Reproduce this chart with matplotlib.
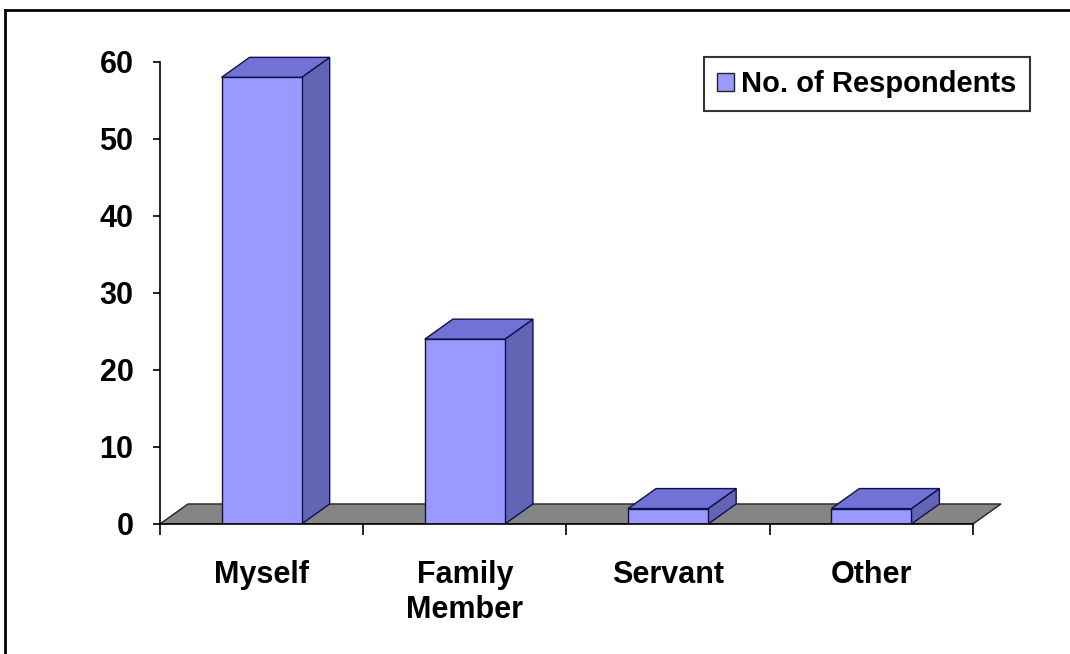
import matplotlib
matplotlib.use('Agg')
import matplotlib.pyplot as plt
from matplotlib.patches import Polygon, Patch
from matplotlib.lines import Line2D

categories = ['Myself', 'Family\nMember', 'Servant', 'Other']
respondents = [58, 24, 2, 2]
y_ticks = [0, 10, 20, 30, 40, 50, 60]
legend_label = 'No. of Respondents'

front_col = '#9999FF'
top_col = '#7272D6'
side_col = '#6464B4'
edge_col = '#10104A'
floor_col = '#858585'

bar_w = 0.394
ddx = 0.138   # depth offset along x (category units)
ddy = 2.6     # depth offset along y (value units)

plt.rcParams['font.family'] = ['Liberation Sans', 'DejaVu Sans']
plt.rcParams['font.weight'] = 'bold'

fig = plt.figure(figsize=(10.7, 6.54), dpi=100)
ax = fig.add_axes([0.1495, 0.1988, 0.7883, 0.730])
ax.set_xlim(-0.5, 3.65)
ax.set_ylim(0, 62)

# floor
n = len(categories)
floor = Polygon([(-0.5, 0), (n - 0.5, 0), (n - 0.5 + ddx, ddy), (-0.5 + ddx, ddy)],
                closed=True, facecolor=floor_col, edgecolor='#222222', linewidth=1, zorder=1)
ax.add_patch(floor)

# 3d-looking bars
for i, v in enumerate(respondents):
    x0 = i - bar_w / 2
    x1 = i + bar_w / 2
    side = Polygon([(x1, 0), (x1 + ddx, ddy), (x1 + ddx, v + ddy), (x1, v)],
                   closed=True, facecolor=side_col, edgecolor=edge_col, linewidth=1, zorder=2)
    top = Polygon([(x0, v), (x1, v), (x1 + ddx, v + ddy), (x0 + ddx, v + ddy)],
                  closed=True, facecolor=top_col, edgecolor=edge_col, linewidth=1, zorder=2)
    front = Polygon([(x0, 0), (x1, 0), (x1, v), (x0, v)],
                    closed=True, facecolor=front_col, edgecolor=edge_col, linewidth=1, zorder=3)
    ax.add_patch(side)
    ax.add_patch(top)
    ax.add_patch(front)

# axes styling
for s in ['top', 'right']:
    ax.spines[s].set_visible(False)
ax.spines['left'].set_bounds(0, 60)
ax.spines['bottom'].set_bounds(-0.5, n - 0.5)
ax.spines['left'].set_linewidth(1.2)
ax.spines['bottom'].set_linewidth(1.2)
ax.spines['left'].set_zorder(5)
ax.spines['bottom'].set_zorder(5)

ax.set_yticks(y_ticks)
ax.set_yticklabels([str(t) for t in y_ticks], fontsize=22, fontweight='bold')
ax.tick_params(axis='y', length=5, width=1.2, pad=14)

ax.set_xticks(range(n))
ax.set_xticklabels(categories, fontsize=22, fontweight='bold', linespacing=1.2)
ax.set_xticks([i - 0.5 for i in range(n + 1)], minor=True)
ax.tick_params(axis='x', which='major', length=0, pad=26)
ax.tick_params(axis='x', which='minor', length=8, width=1.2)

leg = ax.legend(handles=[Patch(facecolor=front_col, edgecolor='#222222', label=legend_label)],
                loc='upper right', bbox_to_anchor=(1030 / 1070, 1 - 57 / 654),
                bbox_transform=fig.transFigure, borderaxespad=0, frameon=True,
                fancybox=False, prop={'size': 21, 'weight': 'bold'},
                handlelength=0.6, handleheight=0.6, handletextpad=0.25,
                borderpad=0.45)
leg.get_frame().set_edgecolor('black')
leg.get_frame().set_linewidth(1.5)

# outer chart border
fig.add_artist(Line2D([5 / 1070, 1.0], [1 - 10 / 654, 1 - 10 / 654], color='black', linewidth=2))
fig.add_artist(Line2D([5 / 1070, 5 / 1070], [0, 1 - 10 / 654], color='black', linewidth=2))

fig.savefig('out.png', dpi=100)
